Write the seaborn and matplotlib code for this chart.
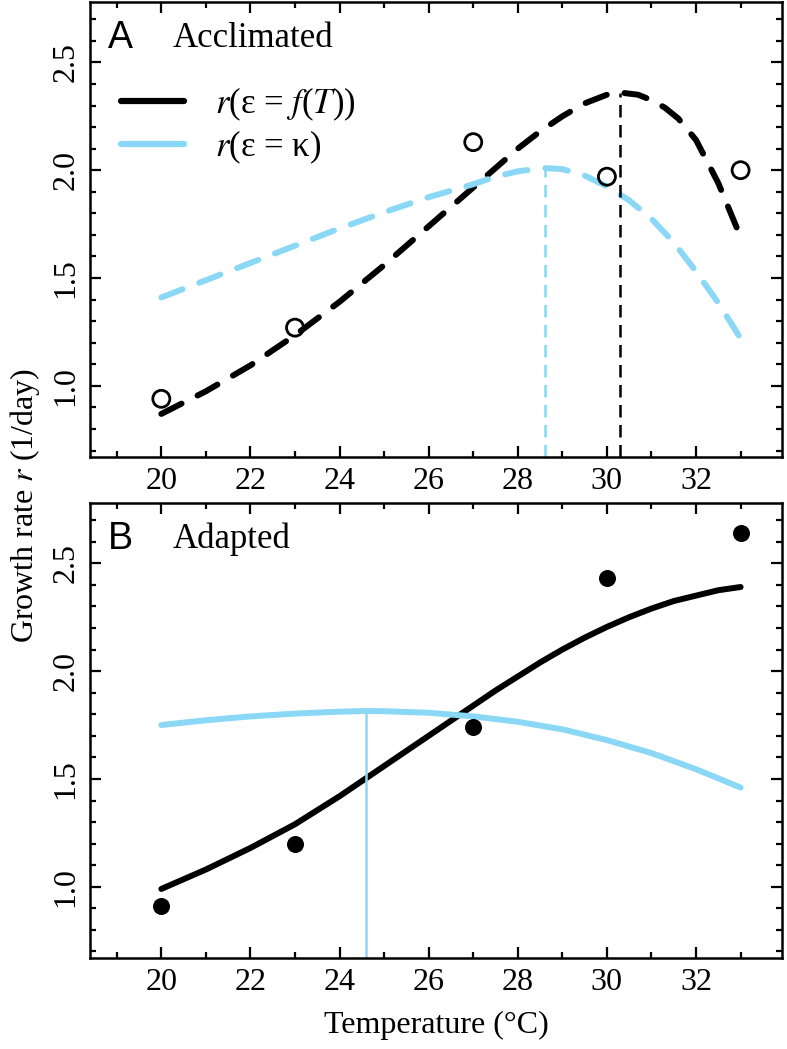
import matplotlib
matplotlib.use("Agg")
import matplotlib.pyplot as plt
import seaborn as sns
import numpy as np
import pandas as pd
from matplotlib.lines import Line2D
from matplotlib.ticker import MultipleLocator

# ---- data ----
temps_obs = [20, 23, 27, 30, 33]
acclimated_obs = [0.94, 1.27, 2.13, 1.97, 2.00]
adapted_obs = [0.91, 1.20, 1.74, 2.43, 2.64]

# Panel A model curves
a_ft_T = [20, 21, 22, 23, 24, 25, 26, 27, 27.5, 28, 28.5, 29, 29.5, 30, 30.3, 30.7, 31, 31.3, 31.6, 32, 32.5, 33]
a_ft_r = [0.87, 0.975, 1.095, 1.235, 1.39, 1.56, 1.74, 1.92, 2.01, 2.10, 2.18, 2.25, 2.31, 2.35, 2.36, 2.35, 2.325, 2.29, 2.24, 2.14, 1.94, 1.69]
a_k_T = [20, 21, 22, 23, 24, 25, 26, 27, 27.5, 28, 28.6, 29, 29.5, 30, 30.5, 31, 31.5, 32, 32.5, 33]
a_k_r = [1.41, 1.49, 1.57, 1.65, 1.73, 1.805, 1.875, 1.935, 1.97, 1.995, 2.01, 2.005, 1.975, 1.925, 1.86, 1.775, 1.665, 1.53, 1.385, 1.22]
a_opt_ft = (30.3, 2.36)
a_opt_k = (28.6, 2.01)

# Panel B model curves
b_ft_T = [20, 20.5, 21, 21.5, 22, 22.5, 23, 23.5, 24, 24.5, 25, 25.5, 26, 26.5, 27, 27.5,
          28, 28.5, 29, 29.5, 30, 30.5, 31, 31.5, 32, 32.5, 33]
b_ft_r = [0.99, 1.035, 1.08, 1.13, 1.18, 1.235, 1.29, 1.355, 1.42, 1.49, 1.56, 1.63, 1.70, 1.77, 1.84, 1.91,
          1.975, 2.04, 2.10, 2.155, 2.205, 2.25, 2.29, 2.325, 2.35, 2.375, 2.39]
b_k_T = [20, 21, 22, 23, 24, 24.6, 25, 26, 27, 28, 29, 30, 31, 32, 33]
b_k_r = [1.75, 1.772, 1.79, 1.803, 1.812, 1.815, 1.814, 1.807, 1.79, 1.765, 1.73, 1.68, 1.62, 1.545, 1.46]
b_opt_k = (24.6, 1.815)

xticks = [20, 22, 24, 26, 28, 30, 32]
yticks = [1.0, 1.5, 2.0, 2.5]

CYAN = "#8AD8F5"
SERIF = "Liberation Serif"
SANS = "Liberation Sans"

sns.set_theme(style="white")
plt.rcParams["font.family"] = [SERIF, "DejaVu Sans"]
plt.rcParams["mathtext.fontset"] = "stix"
for k in ["text.color", "axes.labelcolor", "xtick.color", "ytick.color", "axes.edgecolor"]:
    plt.rcParams[k] = "black"

fig = plt.figure(figsize=(7.87, 10.49), dpi=100)
axA = fig.add_axes([0.1144, 0.5643, 0.8793, 0.4338])
axB = fig.add_axes([0.1144, 0.0868, 0.8793, 0.4338])

YLIM = (0.67, 2.78)
XLIM = (18.4, 33.93)

def style_ax(ax):
    ax.set_xlim(*XLIM)
    ax.set_ylim(*YLIM)
    ax.set_xticks(xticks)
    ax.set_yticks(yticks)
    ax.set_xticklabels([str(t) for t in xticks])
    ax.set_yticklabels([f"{t:.1f}" for t in yticks], rotation=90, va="center")
    ax.xaxis.set_minor_locator(MultipleLocator(1))
    ax.yaxis.set_minor_locator(MultipleLocator(0.1))
    ax.tick_params(which="both", direction="in", top=True, right=True, bottom=True, left=True,
                   color="black", labelcolor="black", width=1.6)
    ax.tick_params(which="major", length=8, labelsize=23, pad=7)
    ax.tick_params(which="minor", length=4)
    for lab in ax.get_xticklabels() + ax.get_yticklabels():
        lab.set_fontfamily(SERIF)
    for s in ax.spines.values():
        s.set_visible(True)
        s.set_color("black")
        s.set_linewidth(1.8)
    ax.set_xlabel("")
    ax.set_ylabel("")
    ax.grid(False)

DASH = (0, (3.8, 3.0))

# ---- Panel A ----
sns.lineplot(x=a_ft_T, y=a_ft_r, ax=axA, color="black", lw=4.3, sort=False,
             linestyle=DASH, dash_capstyle="round")
sns.lineplot(x=a_k_T, y=a_k_r, ax=axA, color=CYAN, lw=4.3, sort=False,
             linestyle=DASH, dash_capstyle="round")
axA.vlines(a_opt_ft[0], YLIM[0], a_opt_ft[1], color="black", lw=1.8, linestyles=(0, (5, 3)))
axA.vlines(a_opt_k[0], YLIM[0], a_opt_k[1], color=CYAN, lw=1.8, linestyles=(0, (5, 3)))
sns.scatterplot(x=temps_obs, y=acclimated_obs, ax=axA, s=150, facecolor="none",
                edgecolor="black", linewidth=2.0, zorder=5)

handles = [Line2D([0], [0], color="black", lw=4.5),
           Line2D([0], [0], color=CYAN, lw=4.5)]
labels = [r"$r$(ε = $f$($T$))", r"$r$(ε = κ)"]
leg = axA.legend(handles, labels, loc="upper left", bbox_to_anchor=(0.0, 0.885),
                 frameon=False, handlelength=1.8, handletextpad=0.9,
                 labelspacing=0.15, prop={"family": SERIF, "size": 25})
for t in leg.get_texts():
    t.set_color("black")
axA.text(0.026, 0.92, "A", transform=axA.transAxes, fontsize=27, fontfamily=SANS,
         va="center", ha="left", color="black")
axA.text(0.12, 0.92, "Acclimated", transform=axA.transAxes, fontsize=25, fontfamily=SERIF,
         va="center", ha="left", color="black")
style_ax(axA)

# ---- Panel B ----
sns.lineplot(x=b_ft_T, y=b_ft_r, ax=axB, color="black", lw=4.3, sort=False,
             solid_capstyle="round")
sns.lineplot(x=b_k_T, y=b_k_r, ax=axB, color=CYAN, lw=4.3, sort=False,
             solid_capstyle="round")
axB.vlines(b_opt_k[0], YLIM[0], b_opt_k[1], color=CYAN, lw=1.8)
sns.scatterplot(x=temps_obs, y=adapted_obs, ax=axB, s=150, color="black",
                edgecolor="black", linewidth=0, zorder=5)
axB.text(0.026, 0.92, "B", transform=axB.transAxes, fontsize=27, fontfamily=SANS,
         va="center", ha="left", color="black")
axB.text(0.12, 0.92, "Adapted", transform=axB.transAxes, fontsize=25, fontfamily=SERIF,
         va="center", ha="left", color="black")
style_ax(axB)
axB.set_xlabel("Temperature (°C)", fontsize=23, fontfamily=SERIF, labelpad=10, color="black")

fig.text(0.032, 0.518, r"Growth rate $r$ (1/day)", rotation=90, fontsize=23,
         fontfamily=SERIF, va="center", ha="center", color="black")

fig.savefig("out.png", dpi=100)
